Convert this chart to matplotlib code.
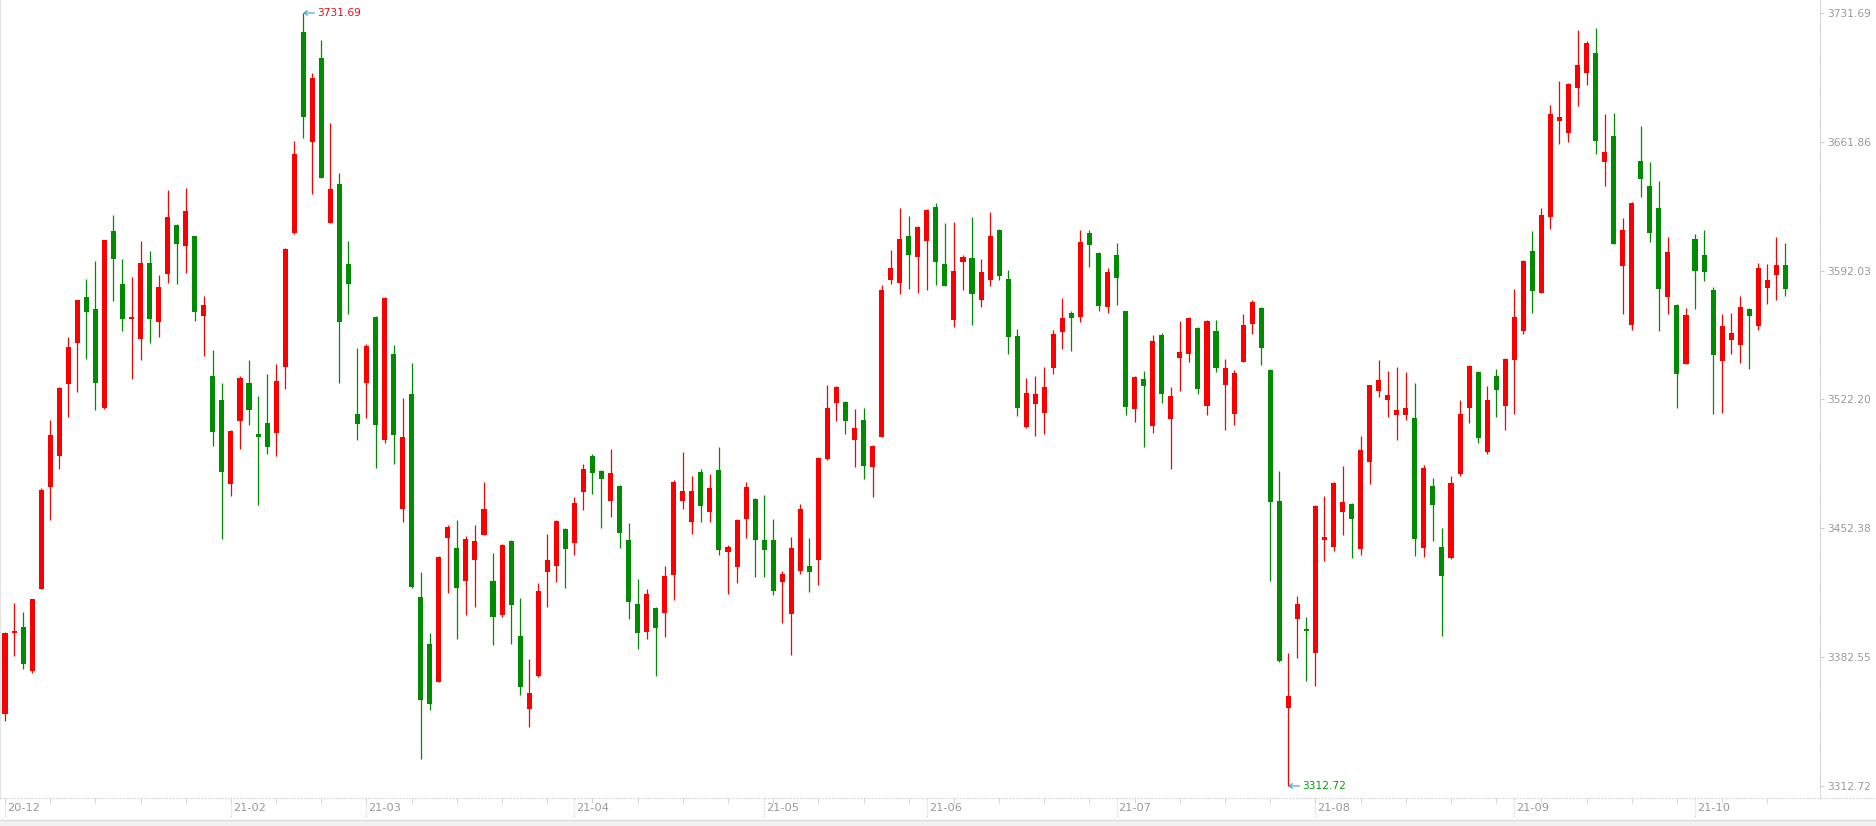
# Candlestick chart: daily index, 2020-12 to 2021-10 (red = up, green = down)

import numpy as np
import matplotlib
matplotlib.use('Agg')
import matplotlib.pyplot as plt
from matplotlib.lines import Line2D
from matplotlib.patches import Rectangle
from matplotlib.transforms import blended_transform_factory


opens = [3351.6, 3395.8, 3398.9, 3374.8, 3419.3, 3474.6, 3491.8, 3530.8, 3552.6, 3577.8,
         3571.1, 3517.5, 3613.4, 3584.7, 3565.9, 3554.8, 3596.3, 3564.0, 3590.2, 3616.8,
         3605.2, 3610.7, 3567.3, 3534.9, 3521.9, 3476.6, 3510.3, 3531.0, 3503.4, 3509.5,
         3504.2, 3539.6, 3612.3, 3721.3, 3661.6, 3707.2, 3617.6, 3638.9, 3595.7, 3514.5,
         3531.3, 3567.0, 3500.1, 3546.8, 3463.0, 3525.2, 3415.2, 3389.8, 3369.3, 3447.0,
         3441.7, 3424.0, 3435.4, 3448.9, 3423.8, 3405.5, 3445.6, 3393.9, 3354.5, 3372.4,
         3428.9, 3432.1, 3452.1, 3444.6, 3472.2, 3491.6, 3483.4, 3467.1, 3475.3, 3446.0,
         3411.4, 3396.4, 3409.1, 3406.6, 3427.2, 3466.9, 3455.9, 3482.9, 3461.4, 3484.0,
         3439.7, 3431.3, 3457.4, 3468.2, 3446.0, 3446.0, 3423.0, 3405.9, 3429.4, 3431.9,
         3435.3, 3489.9, 3520.5, 3520.9, 3500.3, 3511.0, 3485.7, 3502.1, 3586.7, 3585.3,
         3610.8, 3599.6, 3608.3, 3626.6, 3595.6, 3565.0, 3596.9, 3598.8, 3576.2, 3587.0,
         3614.0, 3587.4, 3556.6, 3507.5, 3519.8, 3515.1, 3539.4, 3558.9, 3568.8, 3567.1,
         3612.4, 3601.5, 3572.5, 3600.5, 3570.0, 3516.8, 3533.2, 3507.9, 3557.1, 3511.8,
         3544.9, 3547.0, 3561.0, 3518.6, 3559.3, 3530.1, 3514.3, 3542.7, 3563.2, 3571.7,
         3538.1, 3467.2, 3355.1, 3403.4, 3397.7, 3384.9, 3446.2, 3442.5, 3461.4, 3465.5,
         3441.3, 3488.4, 3527.0, 3522.1, 3513.9, 3513.9, 3512.2, 3441.9, 3475.2, 3442.3,
         3436.3, 3482.0, 3517.8, 3537.1, 3493.9, 3534.9, 3518.8, 3543.7, 3559.5, 3602.7,
         3580.1, 3621.3, 3673.3, 3666.8, 3691.2, 3699.3, 3710.0, 3651.1, 3665.0, 3594.7,
         3562.7, 3651.4, 3637.9, 3626.0, 3577.5, 3573.4, 3541.6, 3609.2, 3600.5, 3581.5,
         3543.2, 3554.6, 3551.9, 3571.2, 3562.2, 3582.8, 3589.8, 3595.1]

highs = [3396.4, 3411.9, 3406.9, 3414.1, 3474.4, 3511.1, 3529.1, 3556.2, 3576.1, 3587.7,
         3597.1, 3608.7, 3622.3, 3598.2, 3588.6, 3608.2, 3602.7, 3589.7, 3635.8, 3617.5,
         3636.9, 3611.0, 3578.3, 3549.0, 3531.0, 3505.6, 3534.9, 3543.5, 3524.1, 3536.0,
         3541.6, 3604.2, 3662.4, 3731.69, 3699.2, 3717.1, 3672.1, 3645.2, 3608.2, 3550.1,
         3552.3, 3567.4, 3577.6, 3551.8, 3523.0, 3542.1, 3428.7, 3395.8, 3437.2, 3453.9,
         3456.9, 3448.4, 3453.9, 3477.4, 3439.0, 3443.8, 3446.0, 3414.6, 3381.5, 3422.8,
         3449.2, 3457.0, 3452.5, 3469.4, 3487.2, 3492.6, 3483.8, 3495.4, 3475.7, 3455.3,
         3424.9, 3419.4, 3409.5, 3431.9, 3478.5, 3493.7, 3480.8, 3484.6, 3481.7, 3496.4,
         3443.3, 3457.2, 3477.5, 3468.6, 3470.3, 3457.4, 3429.2, 3447.7, 3465.6, 3447.1,
         3490.9, 3530.0, 3529.3, 3521.3, 3517.1, 3517.6, 3497.3, 3584.2, 3603.2, 3626.0,
         3621.6, 3616.0, 3625.4, 3628.7, 3617.8, 3618.4, 3600.3, 3621.1, 3598.2, 3623.7,
         3614.4, 3592.4, 3560.4, 3533.8, 3534.9, 3539.8, 3559.7, 3577.2, 3570.0, 3614.0,
         3614.0, 3601.9, 3593.5, 3607.1, 3570.4, 3534.8, 3537.7, 3557.3, 3558.3, 3528.9,
         3564.7, 3566.9, 3561.4, 3565.3, 3565.3, 3544.1, 3537.9, 3568.6, 3576.0, 3572.1,
         3538.5, 3483.4, 3384.9, 3415.5, 3404.2, 3464.9, 3469.9, 3477.2, 3486.1, 3465.9,
         3502.4, 3530.3, 3543.5, 3537.5, 3539.8, 3537.1, 3531.2, 3486.7, 3479.5, 3452.6,
         3480.8, 3521.9, 3540.8, 3537.5, 3529.5, 3538.7, 3544.5, 3582.1, 3597.6, 3613.5,
         3626.0, 3681.8, 3694.8, 3693.6, 3722.5, 3716.5, 3723.5, 3676.9, 3677.5, 3620.5,
         3629.2, 3670.4, 3650.7, 3640.6, 3610.1, 3573.8, 3571.8, 3611.9, 3614.0, 3583.1,
         3568.5, 3569.0, 3578.3, 3571.6, 3596.1, 3595.6, 3610.1, 3607.0]

lows = [3347.7, 3383.4, 3375.9, 3373.7, 3419.3, 3456.7, 3484.3, 3512.8, 3526.3, 3544.0,
        3516.7, 3516.9, 3575.3, 3559.5, 3533.5, 3543.8, 3552.6, 3555.9, 3585.5, 3584.7,
        3590.8, 3564.5, 3546.0, 3496.8, 3446.7, 3469.7, 3495.1, 3508.1, 3465.0, 3492.6,
        3491.8, 3528.0, 3611.8, 3663.8, 3633.6, 3642.2, 3617.6, 3531.3, 3568.4, 3500.4,
        3512.0, 3484.9, 3498.4, 3487.1, 3455.8, 3420.0, 3327.5, 3353.8, 3369.0, 3417.1,
        3392.2, 3405.5, 3409.7, 3448.5, 3388.9, 3404.1, 3389.5, 3361.8, 3344.5, 3372.0,
        3409.5, 3423.0, 3420.1, 3438.0, 3462.5, 3471.1, 3452.6, 3458.7, 3441.8, 3403.4,
        3387.0, 3392.6, 3372.2, 3393.7, 3413.7, 3463.1, 3449.2, 3455.9, 3455.9, 3438.0,
        3416.7, 3422.8, 3447.1, 3426.0, 3426.0, 3416.1, 3401.1, 3383.6, 3427.5, 3417.8,
        3421.6, 3489.3, 3510.4, 3503.6, 3485.5, 3479.2, 3469.6, 3501.8, 3584.9, 3579.1,
        3582.3, 3580.0, 3581.7, 3584.4, 3583.5, 3561.6, 3581.7, 3562.7, 3572.2, 3583.8,
        3586.7, 3546.9, 3513.5, 3506.9, 3502.6, 3503.6, 3536.1, 3549.7, 3548.6, 3564.3,
        3594.1, 3570.2, 3569.2, 3573.5, 3513.9, 3510.2, 3496.6, 3504.2, 3520.3, 3484.7,
        3527.0, 3542.7, 3525.4, 3513.7, 3537.3, 3505.9, 3508.5, 3542.3, 3557.9, 3541.0,
        3424.0, 3379.8, 3312.72, 3382.0, 3369.7, 3367.0, 3434.9, 3440.2, 3448.9, 3436.5,
        3438.0, 3476.6, 3523.5, 3512.6, 3500.3, 3510.8, 3437.4, 3436.7, 3445.6, 3394.2,
        3435.7, 3480.8, 3509.3, 3498.7, 3492.9, 3512.5, 3505.6, 3514.5, 3557.5, 3569.2,
        3579.7, 3614.8, 3660.8, 3661.9, 3681.4, 3692.8, 3655.4, 3638.1, 3606.2, 3568.7,
        3560.0, 3632.1, 3607.7, 3559.5, 3568.7, 3517.7, 3541.2, 3571.4, 3586.6, 3514.5,
        3515.0, 3547.0, 3542.1, 3538.9, 3560.0, 3574.1, 3576.3, 3578.4]

closes = [3395.8, 3396.9, 3378.7, 3414.1, 3473.3, 3502.8, 3528.6, 3550.7, 3576.1, 3569.8,
          3531.3, 3608.7, 3598.5, 3565.6, 3566.7, 3596.3, 3565.9, 3583.0, 3621.2, 3606.5,
          3624.2, 3569.5, 3573.4, 3504.8, 3482.7, 3505.1, 3533.8, 3516.7, 3501.7, 3496.2,
          3532.2, 3603.8, 3655.2, 3675.1, 3696.4, 3642.2, 3636.4, 3564.0, 3585.0, 3508.7,
          3551.2, 3508.1, 3577.2, 3503.1, 3501.7, 3420.7, 3359.1, 3357.4, 3436.8, 3453.1,
          3419.9, 3446.7, 3445.6, 3462.8, 3404.1, 3443.4, 3411.0, 3366.5, 3363.1, 3418.4,
          3435.1, 3456.2, 3441.4, 3466.1, 3484.6, 3482.5, 3479.2, 3482.3, 3450.0, 3412.5,
          3395.8, 3416.7, 3398.5, 3426.6, 3477.5, 3472.6, 3472.6, 3464.6, 3474.1, 3440.8,
          3442.2, 3456.8, 3474.7, 3446.0, 3440.7, 3418.6, 3427.5, 3441.6, 3462.9, 3428.9,
          3490.5, 3517.6, 3528.9, 3510.6, 3506.6, 3486.3, 3496.9, 3581.5, 3593.5, 3609.1,
          3600.7, 3615.7, 3624.9, 3596.9, 3583.8, 3591.8, 3599.4, 3579.6, 3591.2, 3610.8,
          3589.3, 3556.2, 3517.8, 3525.6, 3525.2, 3528.9, 3557.7, 3566.3, 3566.5, 3607.5,
          3606.0, 3573.1, 3591.2, 3588.1, 3518.2, 3534.4, 3529.7, 3553.8, 3525.4, 3524.0,
          3547.8, 3566.3, 3528.1, 3564.7, 3539.0, 3539.2, 3536.5, 3562.6, 3575.0, 3550.3,
          3466.8, 3380.4, 3361.4, 3411.2, 3396.8, 3464.5, 3447.6, 3476.8, 3466.6, 3457.5,
          3494.7, 3529.9, 3532.8, 3524.6, 3516.5, 3517.6, 3446.8, 3485.1, 3465.1, 3426.7,
          3476.8, 3514.3, 3540.4, 3501.3, 3521.9, 3527.5, 3544.1, 3566.9, 3597.2, 3581.2,
          3622.2, 3676.9, 3675.3, 3693.2, 3703.5, 3715.4, 3662.5, 3656.3, 3606.6, 3614.0,
          3628.7, 3641.9, 3612.6, 3582.2, 3602.1, 3536.2, 3568.0, 3592.0, 3591.5, 3546.5,
          3562.0, 3558.2, 3572.3, 3567.6, 3593.4, 3586.9, 3595.1, 3582.2]

month_labels = ['20-12', '21-02', '21-03', '21-04', '21-05', '21-06', '21-07', '21-08', '21-09', '21-10']
month_starts = [0, 25, 40, 63, 84, 102, 123, 145, 167, 187]
price_ticks = [3312.72, 3382.55, 3452.38, 3522.20, 3592.03, 3661.86, 3731.69]

UP = '#fa0000'
DOWN = '#008c00'
GREY = '#999999'
DOT = (0, (1.4, 1.4))


def main():
    o = np.array(opens)
    h = np.array(highs)
    l = np.array(lows)
    c = np.array(closes)
    n = len(o)
    x = np.arange(n)
    colors = np.where(c >= o, UP, DOWN)

    W, H = 1876, 826
    fig = plt.figure(figsize=(W / 100, H / 100), dpi=100)
    fig.patch.set_facecolor('white')
    ax = fig.add_axes([0, 28 / H, 1820 / W, 798 / H])

    # candles
    ax.vlines(x, l, h, colors=colors, linewidth=0.9)
    body_lo = np.minimum(o, c)
    body_h = np.maximum(np.abs(c - o), 0.6)
    ax.bar(x, body_h, bottom=body_lo, width=0.56, color=colors, linewidth=0)

    ax.set_xlim(-0.553, 200.83)
    ax.set_ylim(3306.2, 3738.7)

    # frame
    ax.spines['top'].set_visible(False)
    ax.spines['bottom'].set_visible(False)
    ax.spines['left'].set_color('#e4e4e4')
    ax.spines['left'].set_linewidth(1.6)
    ax.spines['right'].set_color('#cfcfcf')
    ax.spines['right'].set_linewidth(0.75)
    ax.spines['right'].set_linestyle(DOT)
    fig.add_artist(Line2D([0, 1], [28 / H, 28 / H], transform=fig.transFigure,
                          color='#cfcfcf', lw=0.75, ls=DOT))

    # price axis on the right
    ax.yaxis.tick_right()
    ax.set_yticks(price_ticks)
    ax.set_yticklabels([f'{v:.2f}' for v in price_ticks])
    ax.tick_params(axis='y', length=3, width=0.75, color='#cfcfcf',
                   labelcolor=GREY, labelsize=7.7, pad=2)

    # time axis
    ax.set_xticks([])
    ax.set_xticks(np.arange(0, n, 5), minor=True)
    ax.tick_params(axis='x', which='minor', length=3.5, width=0.75, color='#d4d4d4')
    trans = blended_transform_factory(ax.transData, ax.transAxes)
    for m, lab in zip(month_starts, month_labels):
        ax.plot([m, m], [0, -20 / 798], transform=trans, clip_on=False,
                color='#d4d4d4', lw=0.75, ls=DOT)
        ax.annotate(lab, xy=(m, 0), xycoords=trans, xytext=(2, -10),
                    textcoords='offset pixels', ha='left', va='center',
                    fontsize=8.2, color=GREY, annotation_clip=False)

    # highest / lowest markers
    imax, imin = int(np.argmax(h)), int(np.argmin(l))
    for i, val, col in [(imax, h[imax], '#e8101a'), (imin, l[imin], '#0a9a0a')]:
        ax.annotate(f'{val:.2f}', xy=(i, val), xytext=(14, 0), textcoords='offset pixels',
                    ha='left', va='center', fontsize=7.7, color=col, annotation_clip=False,
                    arrowprops=dict(arrowstyle='->,head_length=0.3,head_width=0.22',
                                    color='#3a9ccc', lw=0.8, shrinkA=0, shrinkB=0,
                                    relpos=(0, 0.5)))

    # grey strip along the bottom edge
    fig.add_artist(Rectangle((0, 0), 1, 6 / H, transform=fig.transFigure,
                             facecolor='#f1f1f1', edgecolor='none'))
    fig.add_artist(Line2D([0, 1], [6 / H, 6 / H], transform=fig.transFigure,
                          color='#dcdcdc', lw=1))

    fig.savefig('out.png', dpi=100)


if __name__ == "__main__":
    main()
